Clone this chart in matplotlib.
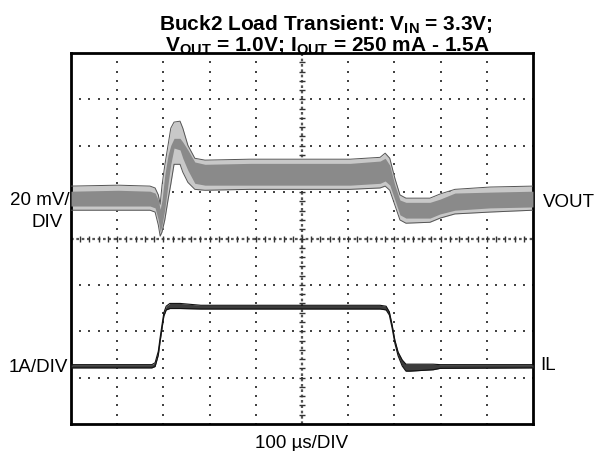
import numpy as np
import matplotlib
matplotlib.use("Agg")
import matplotlib.pyplot as plt

plt.rcParams['font.family'] = ['Liberation Sans', 'DejaVu Sans']
plt.rcParams['mathtext.fontset'] = 'custom'
plt.rcParams['mathtext.rm'] = 'Liberation Sans:bold'
plt.rcParams['mathtext.bf'] = 'Liberation Sans:bold'

# ---- data (screen divisions: x 0..10 = time, y 0..8) ----
vout_t = [0.00, 1.02, 1.71, 1.82, 1.89, 1.93, 1.97, 2.03, 2.10, 2.16, 2.23,
          2.36, 2.42, 2.53, 2.68, 2.90, 3.87, 4.96, 6.04, 6.69, 6.80, 6.90,
          7.01, 7.12, 7.25, 7.77, 7.99, 8.31, 9.07, 10.00]
vout_outer_top = [5.13, 5.15, 5.13, 5.09, 4.94, 4.74, 5.15, 5.58, 6.01, 6.38, 6.51,
                  6.53, 6.38, 6.01, 5.73, 5.69, 5.71, 5.71, 5.71, 5.75, 5.84, 5.73,
                  5.30, 4.94, 4.87, 4.87, 4.96, 5.06, 5.11, 5.13]
vout_inner_top = [5.02, 5.04, 5.02, 4.98, 4.83, 4.63, 4.83, 5.37, 5.80, 6.01, 6.16,
                  6.16, 6.08, 5.91, 5.65, 5.60, 5.62, 5.62, 5.62, 5.67, 5.73, 5.58,
                  5.15, 4.83, 4.78, 4.78, 4.85, 4.98, 5.00, 5.02]
vout_inner_bot = [4.70, 4.70, 4.70, 4.66, 4.40, 4.14, 4.29, 4.63, 5.17, 5.60, 5.95,
                  5.91, 5.73, 5.47, 5.19, 5.15, 5.15, 5.15, 5.15, 5.19, 5.24, 5.15,
                  4.83, 4.51, 4.44, 4.44, 4.53, 4.61, 4.66, 4.68]
vout_outer_bot = [4.61, 4.61, 4.61, 4.57, 4.29, 4.05, 4.14, 4.40, 4.83, 5.17, 5.60,
                  5.60, 5.43, 5.21, 5.06, 5.04, 5.06, 5.06, 5.06, 5.09, 5.13, 5.04,
                  4.72, 4.40, 4.33, 4.35, 4.44, 4.53, 4.57, 4.61]

il_t = [0.00, 1.75, 1.82, 1.89, 1.93, 1.97, 2.01, 2.06, 2.14, 2.36, 2.81, 4.96,
        6.69, 6.82, 6.89, 6.95, 7.01, 7.08, 7.17, 7.25, 7.34, 7.84, 7.99, 10.00]
il_top = [1.28, 1.28, 1.32, 1.57, 1.87, 2.14, 2.40, 2.54, 2.60, 2.60, 2.56, 2.56,
          2.56, 2.54, 2.42, 2.14, 1.81, 1.55, 1.38, 1.29, 1.29, 1.29, 1.28, 1.28]
il_bot = [1.21, 1.21, 1.24, 1.49, 1.79, 2.06, 2.33, 2.46, 2.49, 2.49, 2.48, 2.48,
          2.48, 2.46, 2.35, 2.07, 1.74, 1.47, 1.25, 1.14, 1.14, 1.17, 1.20, 1.21]

title1 = r'Buck2 Load Transient: V$_{\mathrm{IN}}$ = 3.3V;'
title2 = r'V$_{\mathrm{OUT}}$ = 1.0V; I$_{\mathrm{OUT}}$ = 250 mA - 1.5A'
xlabel = '100 µs/DIV'
vout_scale = ['20 mV/', 'DIV']
il_scale = '1A/DIV'
ch_labels = ['VOUT', 'IL']

W, H = 598, 451
fig = plt.figure(figsize=(W / 100, H / 100), dpi=100)
ax = fig.add_axes([71 / W, 1 - 424 / H, 462 / W, 371 / H])
ax.set_xlim(0, 10)
ax.set_ylim(0, 8)
ax.set_xticks([])
ax.set_yticks([])
for s in ax.spines.values():
    s.set_linewidth(2.0)
    s.set_color('black')

# grid dots
minor = np.arange(0, 10.001, 0.2)
minor_y = np.arange(0, 8.001, 0.2)
for gx in range(1, 10):
    if gx == 5:
        continue
    ax.scatter(np.full_like(minor_y, gx), minor_y, s=2.2, marker='s',
               color='#444444', linewidths=0, zorder=1)
for gy in range(1, 8):
    if gy == 4:
        continue
    ax.scatter(minor, np.full_like(minor, gy), s=2.2, marker='s',
               color='#444444', linewidths=0, zorder=1)
# centre axes with ticks
ax.plot([5, 5], [0, 8], color='#555555', lw=1.6, ls=(0, (1.2, 1.2)), zorder=1)
ax.plot([0, 10], [4, 4], color='#555555', lw=1.6, ls=(0, (1.2, 1.2)), zorder=1)
ax.scatter(np.full_like(minor_y, 5), minor_y, s=14, marker='_', color='#333333',
           linewidths=1.0, zorder=1)
ax.scatter(minor, np.full_like(minor, 4), s=14, marker='|', color='#333333',
           linewidths=1.0, zorder=1)

# VOUT trace
ax.fill_between(vout_t, vout_outer_bot, vout_outer_top, color='#c8c8c8',
                lw=0, zorder=2)
ax.plot(vout_t, vout_outer_top, color='#555555', lw=0.7, zorder=3)
ax.plot(vout_t, vout_outer_bot, color='#555555', lw=0.7, zorder=3)
ax.fill_between(vout_t, vout_inner_bot, vout_inner_top, color='#8a8a8a',
                lw=0, zorder=3)

# IL trace
ax.fill_between(il_t, il_bot, il_top, color='#3c3c3c', lw=0, zorder=3)
ax.plot(il_t, il_top, color='#111111', lw=0.8, zorder=4)
ax.plot(il_t, il_bot, color='#111111', lw=0.8, zorder=4)

def ft(x, y, s, **kw):
    fig.text(x / W, 1 - y / H, s, **kw)

ft(326, 30, title1, ha='center', va='baseline', fontsize=15, fontweight='bold')
ft(327, 51, title2, ha='center', va='baseline', fontsize=15, fontweight='bold')
ft(302, 448, xlabel, ha='center', va='baseline', fontsize=13.5)
ft(70, 205, vout_scale[0], ha='right', va='baseline', fontsize=13.5)
ft(63, 227, vout_scale[1], ha='right', va='baseline', fontsize=13.5)
ft(68, 372, il_scale, ha='right', va='baseline', fontsize=13.5)
ft(543, 207, ch_labels[0], ha='left', va='baseline', fontsize=13.5)
ft(540, 370, ch_labels[1], ha='left', va='baseline', fontsize=13.5)

fig.savefig('out.png', dpi=100)
